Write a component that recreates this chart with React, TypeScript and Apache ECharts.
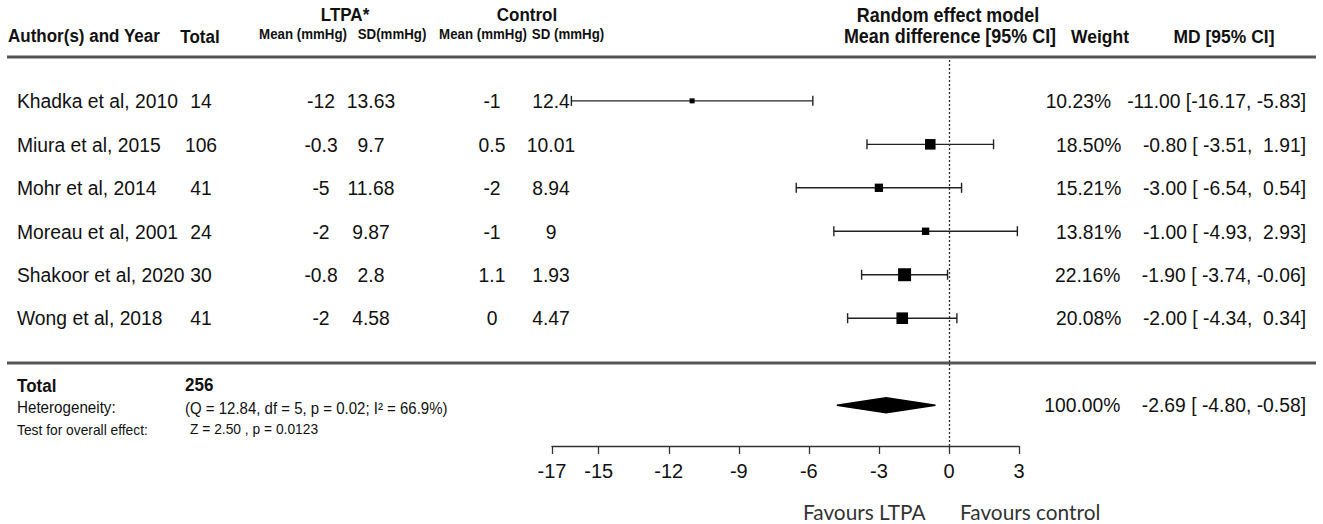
import React, { useEffect, useRef } from "react";
import * as echarts from "echarts";

// ---------- data ----------
const authors = [
  "Khadka et al, 2010",
  "Miura et al, 2015",
  "Mohr et al, 2014",
  "Moreau et al, 2001",
  "Shakoor et al, 2020",
  "Wong et al, 2018",
];
const totals = [14, 106, 41, 24, 30, 41];
const ltpaMean = [-12, -0.3, -5, -2, -0.8, -2];
const ltpaSD = [13.63, 9.7, 11.68, 9.87, 2.8, 4.58];
const ctrlMean = [-1, 0.5, -2, -1, 1.1, 0];
const ctrlSD = [12.4, 10.01, 8.94, 9, 1.93, 4.47];
const weights = [10.23, 18.5, 15.21, 13.81, 22.16, 20.08];
const meanDiff = [-11.0, -0.8, -3.0, -1.0, -1.9, -2.0];
const ciLow = [-16.17, -3.51, -6.54, -4.93, -3.74, -4.34];
const ciHigh = [-5.83, 1.91, 0.54, 2.93, -0.06, 0.34];

const pooledMD = -2.69;
const pooledLow = -4.8;
const pooledHigh = -0.58;
const pooledWeight = 100;
const pooledTotal = 256;
const pooledRow = 7;

const axisTicks = [-17, -15, -12, -9, -6, -3, 0, 3];

const heterogeneityText = "(Q = 12.84, df = 5, p = 0.02; I\u00b2 = 66.9%)";
const overallText = "Z = 2.50 , p = 0.0123";

// ---------- style helpers ----------
const FF = "'Liberation Sans', Arial, sans-serif";
const INK = "#111111";
const SX = 0.92;

const pad = (s: string, n: number) => s.padStart(n, "\u00a0");
const f2 = (v: number) => v.toFixed(2);
const rightText = (w: number, m: number, lo: number, hi: number) =>
  `${f2(w)}%\u00a0\u00a0\u00a0${pad(f2(m), 6)} [${pad(f2(lo), 6)}, ${pad(f2(hi), 5)}]`;

function T(
  x: number,
  y: number,
  text: string,
  size: number,
  opts: { bold?: boolean; align?: string; fill?: string; sx?: number; family?: string } = {}
) {
  return {
    type: "text",
    x,
    y,
    scaleX: opts.sx ?? SX,
    silent: true,
    style: {
      text,
      fontSize: size,
      fontFamily: opts.family ?? FF,
      fontWeight: opts.bold ? "bold" : "normal",
      fill: opts.fill ?? INK,
      align: opts.align ?? "left",
      verticalAlign: "middle",
    },
  };
}

const minW = Math.min(...weights);
const maxW = Math.max(...weights);
const squareSize = (w: number) => 5 + ((w - minW) / (maxW - minW)) * 8;

const rows = authors.map((_, i) => i);

export default function App() {
  const ref = useRef<HTMLDivElement>(null);

  useEffect(() => {
    document.body.style.margin = "0";
    if (!ref.current) return;
    const chart = echarts.init(ref.current, undefined, { renderer: "svg" });

    const option: any = {
      animation: false,
      backgroundColor: "#ffffff",
      grid: {
        left: 552,
        top: 60,
        width: 467,
        height: 386,
        containLabel: false,
        outerBoundsMode: "none",
      },
      xAxis: {
        type: "value",
        min: -17,
        max: 3,
        position: "bottom",
        axisLine: { show: true, onZero: false, lineStyle: { color: "#333", width: 1.3 } },
        axisTick: {
          show: true,
          length: 8,
          inside: false,
          customValues: axisTicks,
          lineStyle: { color: "#333", width: 1.3 },
        },
        axisLabel: {
          show: true,
          customValues: axisTicks,
          fontSize: 20,
          fontFamily: FF,
          color: INK,
          margin: 15,
        },
        splitLine: { show: false },
      },
      yAxis: {
        type: "value",
        min: -0.94,
        max: 7.94,
        inverse: true,
        show: false,
        axisLine: { onZero: false },
        splitLine: { show: false },
      },
      series: [
        {
          type: "custom",
          name: "ci",
          clip: false,
          data: rows.map((i) => [ciLow[i], ciHigh[i], i]),
          encode: { x: [0, 1], y: 2 },
          renderItem: (params: any, api: any) => {
            const lo = api.coord([api.value(0), api.value(2)]);
            const hi = api.coord([api.value(1), api.value(2)]);
            const c = 5;
            const st = { stroke: "#222", lineWidth: 1.4 };
            return {
              type: "group",
              children: [
                { type: "line", shape: { x1: lo[0], y1: lo[1], x2: hi[0], y2: hi[1] }, style: st },
                { type: "line", shape: { x1: lo[0], y1: lo[1] - c, x2: lo[0], y2: lo[1] + c }, style: st },
                { type: "line", shape: { x1: hi[0], y1: hi[1] - c, x2: hi[0], y2: hi[1] + c }, style: st },
              ],
            };
          },
        },
        {
          type: "scatter",
          name: "md",
          symbol: "rect",
          symbolSize: (_v: any, p: any) => squareSize(weights[p.dataIndex]),
          itemStyle: { color: "#000", opacity: 1 },
          data: rows.map((i) => [meanDiff[i], i]),
          z: 5,
          markLine: {
            silent: true,
            symbol: ["none", "none"],
            label: { show: false },
            lineStyle: { type: [2, 2], color: "#333", width: 1.3 },
            data: [{ xAxis: 0 }],
            animation: false,
          },
        },
        {
          type: "custom",
          name: "pooled",
          clip: false,
          data: [[pooledLow, pooledMD, pooledHigh, pooledRow]],
          encode: { x: [0, 1, 2], y: 3 },
          renderItem: (params: any, api: any) => {
            const l = api.coord([api.value(0), api.value(3)]);
            const m = api.coord([api.value(1), api.value(3)]);
            const h = api.coord([api.value(2), api.value(3)]);
            const hh = 7.5;
            return {
              type: "group",
              children: [
                {
                  type: "polygon",
                  shape: {
                    points: [
                      [l[0], l[1]],
                      [m[0], m[1] - hh],
                      [h[0], h[1]],
                      [m[0], m[1] + hh],
                    ],
                  },
                  style: { fill: "#000", stroke: "#000", lineWidth: 1.5 },
                },
                T(1306, m[1], rightText(pooledWeight, pooledMD, pooledLow, pooledHigh), 21, { align: "right" }),
              ],
            };
          },
        },
        {
          type: "custom",
          name: "table",
          clip: false,
          silent: true,
          data: rows.map((i) => [0, i]),
          renderItem: (params: any, api: any) => {
            const i = params.dataIndex;
            const y = api.coord([0, api.value(1)])[1];
            return {
              type: "group",
              children: [
                T(17, y, authors[i], 21),
                T(201, y, String(totals[i]), 21, { align: "center" }),
                T(321, y, String(ltpaMean[i]), 21, { align: "center" }),
                T(371, y, String(ltpaSD[i]), 21, { align: "center" }),
                T(492, y, String(ctrlMean[i]), 21, { align: "center" }),
                T(551, y, String(ctrlSD[i]), 21, { align: "center" }),
                T(1306, y, rightText(weights[i], meanDiff[i], ciLow[i], ciHigh[i]), 21, { align: "right" }),
              ],
            };
          },
        },
      ],
      graphic: [
        // header rules
        { type: "line", silent: true, shape: { x1: 7, y1: 57, x2: 1316, y2: 57 }, style: { stroke: "#555", lineWidth: 3 } },
        { type: "line", silent: true, shape: { x1: 7, y1: 363, x2: 1316, y2: 363 }, style: { stroke: "#555", lineWidth: 3 } },
        // headers
        T(8, 36, "Author(s) and Year", 18.5, { bold: true }),
        T(200, 37, "Total", 18.5, { bold: true, align: "center" }),
        T(345, 15, "LTPA*", 18.5, { bold: true, align: "center" }),
        T(527, 15, "Control", 18.5, { bold: true, align: "center" }),
        T(303, 34, "Mean (mmHg)", 14, { bold: true, align: "center", sx: 0.95 }),
        T(392, 34, "SD(mmHg)", 14, { bold: true, align: "center", sx: 0.95 }),
        T(483, 34, "Mean (mmHg)", 14, { bold: true, align: "center", sx: 0.95 }),
        T(568, 34, "SD (mmHg)", 14, { bold: true, align: "center", sx: 0.95 }),
        T(948, 15, "Random effect model", 19.5, { bold: true, align: "center" }),
        T(950, 36, "Mean difference [95% CI]", 19.5, { bold: true, align: "center" }),
        T(1100, 36, "Weight", 19, { bold: true, align: "center" }),
        T(1224, 36, "MD [95% CI]", 19, { bold: true, align: "center" }),
        // summary block
        T(17, 386, "Total", 18.5, { bold: true }),
        T(185, 385, String(pooledTotal), 18.5, { bold: true }),
        T(17, 407, "Heterogeneity:", 16.5),
        T(185, 408, heterogeneityText, 16.3),
        T(17, 430, "Test for overall effect:", 15),
        T(190, 429, overallText, 15),
        // favours
        T(803, 511, "Favours LTPA", 20.8, { fill: "#333", sx: 1, family: "Lato, 'Liberation Sans', sans-serif" }),
        T(960, 511, "Favours control", 20.8, { fill: "#333", sx: 1, family: "Lato, 'Liberation Sans', sans-serif" }),
      ],
    };

    chart.setOption(option);
    return () => chart.dispose();
  }, []);

  return <div ref={ref} style={{ width: "1323px", height: "524px" }} />;
}
